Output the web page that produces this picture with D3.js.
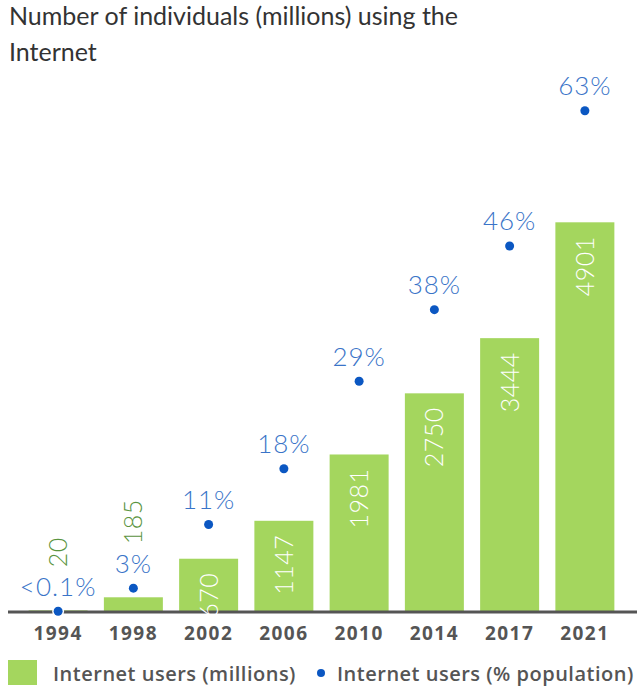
<!DOCTYPE html>
<html>
<head>
<meta charset="utf-8">
<script src="https://cdn.jsdelivr.net/npm/d3@7"></script>
<style>
  body { margin: 0; background: #fff; }
  svg { display: block; font-family: Lato, "Open Sans", sans-serif; }
</style>
</head>
<body>
<div class="chart"></div>
<script>
const years = ["1994", "1998", "2002", "2006", "2010", "2014", "2017", "2021"];
const users = [20, 185, 670, 1147, 1981, 2750, 3444, 4901];
const pct = [0.1, 3, 11, 18, 29, 38, 46, 63];
const pctLabels = ["<0.1%", "3%", "11%", "18%", "29%", "38%", "46%", "63%"];

const width = 639, height = 688;
const baseY = 612;

const svg = d3.select(".chart").append("svg")
    .attr("width", width)
    .attr("height", height);

const x = d3.scaleBand()
    .domain(years)
    .range([20.5, 622.5])
    .paddingInner(0.216)
    .paddingOuter(0.108);

const yBar = d3.scaleLinear().domain([0, 4901]).range([baseY, 222.3]);
const yPct = d3.scaleLinear().domain([0, 63]).range([baseY, 110.7]);

// title
svg.append("text")
    .attr("x", 9).attr("y", 25)
    .attr("fill", "#333")
    .attr("font-size", 25)
    .call(t => {
        t.append("tspan").attr("x", 9).text("Number of individuals (millions) using the");
        t.append("tspan").attr("x", 9).attr("dy", 36).text("Internet");
    });

// bars
svg.append("g").selectAll("rect")
    .data(years)
    .join("rect")
    .attr("x", d => x(d))
    .attr("width", x.bandwidth())
    .attr("y", (d, i) => yBar(users[i]))
    .attr("height", (d, i) => baseY - yBar(users[i]))
    .attr("fill", "#a4d65e");

// axis line
svg.append("line")
    .attr("x1", 8).attr("x2", 637)
    .attr("y1", baseY).attr("y2", baseY)
    .attr("stroke", "#555").attr("stroke-width", 3);

// bar labels (rotated)
svg.append("g").selectAll("text")
    .data(years)
    .join("text")
    .attr("font-size", 25)
    .attr("font-weight", 300)
    .attr("letter-spacing", 0.5)
    .attr("text-anchor", (d, i) => users[i] > 500 ? "end" : "start")
    .attr("fill", (d, i) => users[i] > 500 ? "#fff" : "#5a9440")
    .attr("transform", (d, i) => {
        const cx = x(d) + x.bandwidth() / 2 + 9;
        const y = users[i] > 500 ? yBar(users[i]) + 14 : yPct(pct[i]) - 44;
        return `translate(${cx},${y}) rotate(-90)`;
    })
    .text((d, i) => users[i]);

// percentage dots
svg.append("g").selectAll("circle")
    .data(years)
    .join("circle")
    .attr("cx", d => x(d) + x.bandwidth() / 2)
    .attr("cy", (d, i) => yPct(pct[i]))
    .attr("r", 4.5)
    .attr("fill", "#0b57c2")
    .attr("stroke", "#fff")
    .attr("stroke-width", 3)
    .attr("paint-order", "stroke");

// percentage labels
svg.append("g").selectAll("text")
    .data(years)
    .join("text")
    .attr("x", d => x(d) + x.bandwidth() / 2)
    .attr("y", (d, i) => yPct(pct[i]) - 15.5)
    .attr("text-anchor", "middle")
    .attr("font-size", 26)
    .attr("font-weight", 300)
    .attr("letter-spacing", 1)
    .attr("fill", "#3a74c8")
    .text((d, i) => pctLabels[i]);

// x tick labels
svg.append("g").selectAll("text")
    .data(years)
    .join("text")
    .attr("x", d => x(d) + x.bandwidth() / 2)
    .attr("y", 640)
    .attr("text-anchor", "middle")
    .attr("font-family", "'Open Sans', sans-serif")
    .attr("font-size", 19)
    .attr("font-weight", 700)
    .attr("letter-spacing", 1.5)
    .attr("fill", "#555")
    .text(d => d);

// legend
const legend = svg.append("g")
    .attr("font-family", "'Open Sans', sans-serif")
    .attr("font-size", 20).attr("font-weight", 600)
    .attr("letter-spacing", 0.5).attr("fill", "#555");
legend.append("rect")
    .attr("x", 8).attr("y", 660).attr("width", 29).attr("height", 25)
    .attr("fill", "#a4d65e");
legend.append("text").attr("x", 53).attr("y", 681).text("Internet users (millions)");
legend.append("circle")
    .attr("cx", 321).attr("cy", 673).attr("r", 4)
    .attr("fill", "#0b57c2");
legend.append("text").attr("x", 337).attr("y", 681).text("Internet users (% population)");
</script>
</body>
</html>
